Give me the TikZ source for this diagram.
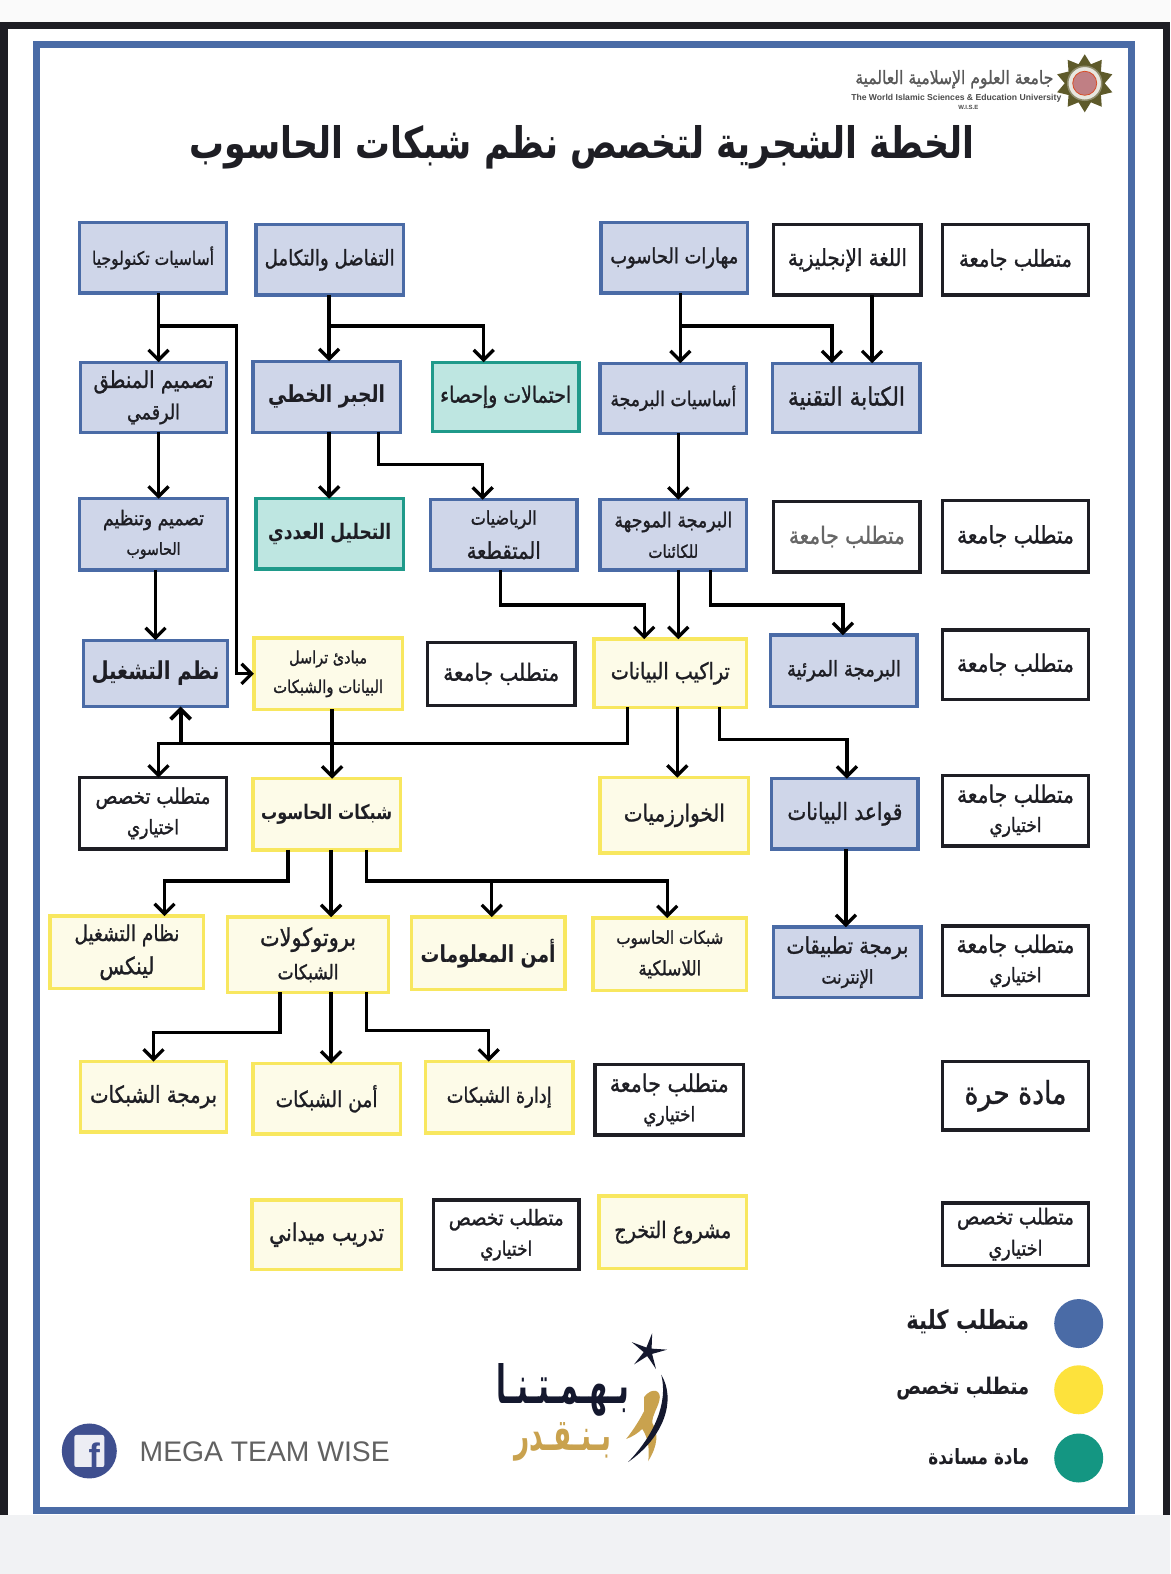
\documentclass[tikz,border=0pt]{standalone}
\usepackage{fontspec}
\usepackage{graphicx}
\usepackage{xcolor}
\usetikzlibrary{arrows.meta,shapes.geometric}
\TeXXeTstate=1
\setmainfont{Liberation Sans}
\newfontfamily\arabicfont[Script=Arabic]{DejaVu Sans}
\newfontfamily\arabicmed[Script=Arabic,FakeBold=1.3]{DejaVu Sans}
\definecolor{frameblue}{HTML}{4A6BA6}
\definecolor{bluefill}{HTML}{CFD6E9}
\definecolor{greenedge}{HTML}{1F9A8A}
\definecolor{greenfill}{HTML}{BEE6E1}
\definecolor{yellowedge}{HTML}{F8E75F}
\definecolor{yellowfill}{HTML}{FDFBE8}
\definecolor{ink}{HTML}{1E1E24}
\definecolor{gold}{HTML}{C9A24E}
\definecolor{navy}{HTML}{14182E}
\definecolor{olive}{HTML}{5E5A2A}
\definecolor{sealred}{HTML}{C07F84}
\definecolor{pagegrey}{HTML}{F1F2F4}
\definecolor{fbblue}{HTML}{3F4F8F}
\definecolor{legyellow}{HTML}{FDE23C}
\definecolor{leggreen}{HTML}{149682}
\newcommand{\T}[3][ink]{\resizebox{#2pt}{!}{\scalebox{1}[1.18]{\color{#1}\arabicmed #3}}}
\newcommand{\TB}[3][ink]{\resizebox{#2pt}{!}{\scalebox{1}[1.25]{\color{#1}\arabicfont\bfseries #3}}}
\newcommand{\cbox}[7]{\node[#6,minimum width={(#4-#2)*1.00343pt},minimum height={(#5-#3)*1.00343pt}] (#1) at ({(#2+#4)/2},{(#3+#5)/2}) {#7};}
\tikzset{
  cbase/.style={rectangle,draw,line width=3.4pt,inner sep=0pt,outer sep=0pt,align=center},
  blueb/.style={cbase,draw=frameblue,fill=bluefill},
  greenb/.style={cbase,draw=greenedge,fill=greenfill},
  yellowb/.style={cbase,draw=yellowedge,fill=yellowfill},
  plainb/.style={cbase,draw=ink,fill=white},
  wire/.style={draw=black,line width=3.3pt,line join=miter},
  arr/.style={wire,-{Straight Barb[length=10pt,width=20pt,line width=3.3pt]}},
}
\begin{document}
\begin{tikzpicture}[x=1.00343pt,y=-1.00343pt]
\useasboundingbox (0,0) rectangle (1166,1568.6);
% page
\fill[white] (0,0) rectangle (1166,1568.6);
\fill[black!2] (0,0) rectangle (1166,22);
\fill[pagegrey] (0,1510) rectangle (1166,1568.6);
\fill[ink] (0,22) rectangle (1166,29);
\fill[ink] (0,22) rectangle (7.5,1510);
\fill[ink] (1159,22) rectangle (1166,1510);
\draw[frameblue,line width=7pt] (36,44.5) rectangle (1127.5,1505.5);

% university mark
\node[star,star points=10,star point ratio=1.45,minimum size=58pt,inner sep=0pt,fill=olive,draw=none] (seal) at (1081,83) {};
\node[circle,minimum size=34pt,inner sep=0pt,fill=white!85!olive,draw=olive!70,line width=1.5pt] (sealb) at (1081,83) {};
\node[circle,minimum size=24pt,inner sep=0pt,fill=sealred,draw=red!40!brown,line width=.8pt] (sealc) at (1081,83) {};
\node[inner sep=0pt] (uniar) at (951,79) {\T[black!65]{198}{\beginR جامعة العلوم الإسلامية العالمية\endR}};
\node[inner sep=0pt,font=\bfseries,text=black!70] (unien) at (953,98) {\resizebox{210pt}{!}{The World Islamic Sciences \& Education University}};
\node[inner sep=0pt,font=\bfseries,text=black!70] (uniab) at (965,107) {\resizebox{20pt}{!}{W.I.S.E}};

% title
\node[inner sep=0pt] (title) at (580,147) {\TB{785}{\beginR الخطة الشجرية لتخصص نظم شبكات الحاسوب\endR}};

% row 1
\cbox{r1a}{939}{224}{1085}{294}{plainb}{\T{113}{\beginR متطلب جامعة\endR}}
\cbox{eng}{771}{224}{918}{294}{plainb}{\T{119}{\beginR اللغة الإنجليزية\endR}}
\cbox{skills}{599}{222}{745}{292}{blueb}{\T{128}{\beginR مهارات الحاسوب\endR}}
\cbox{calc}{255}{224}{402}{294}{blueb}{\T{130}{\beginR التفاضل والتكامل\endR}}
\cbox{tech}{79}{222}{226}{292}{blueb}{\T{122}{\beginR أساسيات تكنولوجيا\endR}}
% row 2
\cbox{writing}{770}{362}{917}{431}{blueb}{\T{117}{\beginR الكتابة التقنية\endR}}
\cbox{prog}{598}{362}{744}{432}{blueb}{\T{126}{\beginR أساسيات البرمجة\endR}}
\cbox{prob}{431}{361}{577}{430}{greenb}{\T{131}{\beginR احتمالات وإحصاء\endR}}
\cbox{linear}{252}{360}{399}{431}{blueb}{\TB{117}{\beginR الجبر الخطي\endR}}
\cbox{logic}{80}{361}{226}{431}{blueb}{\T{120}{\beginR تصميم المنطق\endR}\\[9pt]\T{53}{\beginR الرقمي\endR}}
% row 3
\cbox{r3a}{939}{499}{1085}{570}{plainb}{\T{117}{\beginR متطلب جامعة\endR}}
\cbox{r3b}{771}{500}{917}{570}{plainb}{\T[black!60]{116}{\beginR متطلب جامعة\endR}}
\cbox{oop}{598}{498}{744}{568}{blueb}{\T{118}{\beginR البرمجة الموجهة\endR}\\[11pt]\T{50}{\beginR للكائنات\endR}}
\cbox{disc}{429}{498}{575}{568}{blueb}{\T{66}{\beginR الرياضيات\endR}\\[11pt]\T{74}{\beginR المتقطعة\endR}}
\cbox{numeric}{255}{497}{402}{567}{greenb}{\TB{123}{\beginR التحليل العددي\endR}}
\cbox{org}{79}{497}{227}{568}{blueb}{\T{101}{\beginR تصميم وتنظيم\endR}\\[11pt]\T{54}{\beginR الحاسوب\endR}}
% row 4
\cbox{r4a}{939}{628}{1085}{697}{plainb}{\T{117}{\beginR متطلب جامعة\endR}}
\cbox{visual}{768}{633}{914}{704}{blueb}{\T{114}{\beginR البرمجة المرئية\endR}}
\cbox{ds}{592}{637}{744}{705}{yellowb}{\T{119}{\beginR تراكيب البيانات\endR}}
\cbox{r4b}{426}{640}{573}{703}{plainb}{\T{116}{\beginR متطلب جامعة\endR}}
\cbox{mabadi}{253}{636}{401}{707}{yellowb}{\T{78}{\beginR مبادئ تراسل\endR}\\[11pt]\T{110}{\beginR البيانات والشبكات\endR}}
\cbox{os}{83}{638}{227}{704}{blueb}{\TB{128}{\beginR نظم التشغيل\endR}}
% row 5
\cbox{r5a}{939}{773}{1085}{843}{plainb}{\T{117}{\beginR متطلب جامعة\endR}\\[9pt]\T{52}{\beginR اختياري\endR}}
\cbox{db}{769}{776}{915}{846}{blueb}{\T{115}{\beginR قواعد البيانات\endR}}
\cbox{algo}{598}{775}{746}{850}{yellowb}{\T{101}{\beginR الخوارزميات\endR}}
\cbox{net}{252}{776}{399}{847}{yellowb}{\TB{131}{\beginR شبكات الحاسوب\endR}}
\cbox{r5b}{79}{775}{226}{846}{plainb}{\T{115}{\beginR متطلب تخصص\endR}\\[9pt]\T{52}{\beginR اختياري\endR}}
% row 6
\cbox{r6a}{939}{923}{1085}{992}{plainb}{\T{118}{\beginR متطلب جامعة\endR}\\[9pt]\T{52}{\beginR اختياري\endR}}
\cbox{web}{771}{924}{918}{994}{blueb}{\T{122}{\beginR برمجة تطبيقات\endR}\\[9pt]\T{52}{\beginR الإنترنت\endR}}
\cbox{wireless}{591}{915}{744}{987}{yellowb}{\T{107}{\beginR شبكات الحاسوب\endR}\\[11pt]\T{63}{\beginR اللاسلكية\endR}}
\cbox{sec}{410}{914}{563}{986}{yellowb}{\TB{135}{\beginR أمن المعلومات\endR}}
\cbox{proto}{227}{914}{387}{989}{yellowb}{\T{96}{\beginR بروتوكولات\endR}\\[11pt]\T{61}{\beginR الشبكات\endR}}
\cbox{linux}{50}{913}{203}{985}{yellowb}{\T{105}{\beginR نظام التشغيل\endR}\\[9pt]\T{55}{\beginR لينكس\endR}}
% row 7
\cbox{free}{939}{1058}{1085}{1126}{plainb}{\T{102}{\beginR مادة حرة\endR}}
\cbox{r7a}{593}{1061}{741}{1131}{plainb}{\T{119}{\beginR متطلب جامعة\endR}\\[9pt]\T{52}{\beginR اختياري\endR}}
\cbox{netmgmt}{424}{1058}{571}{1129}{yellowb}{\T{105}{\beginR إدارة الشبكات\endR}}
\cbox{netsec}{252}{1060}{399}{1130}{yellowb}{\T{102}{\beginR أمن الشبكات\endR}}
\cbox{netprog}{80}{1058}{226}{1128}{yellowb}{\T{127}{\beginR برمجة الشبكات\endR}}
% row 8
\cbox{r8a}{939}{1199}{1085}{1261}{plainb}{\T{117}{\beginR متطلب تخصص\endR}\\[9pt]\T{54}{\beginR اختياري\endR}}
\cbox{project}{597}{1192}{744}{1264}{yellowb}{\T{117}{\beginR مشروع التخرج\endR}}
\cbox{r8b}{432}{1196}{577}{1265}{plainb}{\T{115}{\beginR متطلب تخصص\endR}\\[9pt]\T{52}{\beginR اختياري\endR}}
\cbox{field}{251}{1196}{400}{1265}{yellowb}{\T{115}{\beginR تدريب ميداني\endR}}

% junctions
\coordinate (jtech) at (158,325);
\coordinate (jcalc) at (328,325);
\coordinate (jskills) at (678,325);
\coordinate (jds) at (180,741);
\coordinate (jnet) at (490,878);

% connectors
\draw[arr] (tech.south -| 158,0) -- (logic.north -| 158,0);
\draw[arr] (jtech) -- (236,325) |- (mabadi.west);
\draw[arr] (calc.south -| 328,0) -- (linear.north -| 328,0);
\draw[arr] (jcalc) -| (prob.north -| 482,0);
\draw[arr] (skills.south -| 678,0) -- (prog.north -| 678,0);
\draw[arr] (jskills) -| (writing.north -| 829,0);
\draw[arr] (eng.south -| 869,0) -- (writing.north -| 869,0);
\draw[arr] (logic.south -| 158,0) -- (org.north -| 158,0);
\draw[arr] (org.south -| 155,0) -- (os.north -| 155,0);
\draw[arr] (linear.south -| 328,0) -- (numeric.north -| 328,0);
\draw[arr] (linear.south -| 377,0) |- (481,463) -- (disc.north -| 481,0);
\draw[arr] (prog.south -| 676,0) -- (oop.north -| 676,0);
\draw[arr] (oop.south -| 676,0) -- (ds.north -| 676,0);
\draw[arr] (oop.south -| 708,0) |- (840,603) -- (visual.north -| 840,0);
\draw[arr] (disc.south -| 499,0) |- (642,603) -- (ds.north -| 642,0);
\draw[arr] (ds.south -| 625,0) |- (158,741) -- (r5b.north -| 158,0);
\draw[wire,line width=4.2pt,-{Straight Barb[length=10pt,width=20pt,line width=4pt]}] (jds) -- (os.south -| 180,0);
\draw[arr] (mabadi.south -| 331,0) -- (net.north -| 331,0);
\draw[arr] (ds.south -| 675,0) -- (algo.north -| 675,0);
\draw[arr] (ds.south -| 717,0) |- (844,737) -- (db.north -| 844,0);
\draw[arr] (db.south -| 843,0) -- (web.north -| 843,0);
\draw[arr] (net.south -| 287,0) |- (164,878) -- (linux.north -| 164,0);
\draw[arr] (net.south -| 330,0) -- (proto.north -| 330,0);
\draw[arr] (net.south -| 365,0) |- (665,878) -- (wireless.north -| 665,0);
\draw[arr] (jnet) -- (sec.north -| 490,0);
\draw[arr] (proto.south -| 279,0) |- (153,1029) -- (netprog.north -| 153,0);
\draw[arr] (proto.south -| 330,0) -- (netsec.north -| 330,0);
\draw[arr] (proto.south -| 365,0) |- (487,1027) -- (netmgmt.north -| 487,0);

% legend
\node[circle,fill=frameblue,minimum size=49pt,inner sep=0pt] (lega) at (1075,1319) {};
\node[circle,fill=legyellow,minimum size=49pt,inner sep=0pt] (legb) at (1075,1385) {};
\node[circle,fill=leggreen,minimum size=49pt,inner sep=0pt] (legc) at (1075,1453) {};
\node[anchor=east,inner sep=0pt] (legat) at (1026,1317) {\TB{123}{\beginR متطلب كلية\endR}};
\node[anchor=east,inner sep=0pt] (legbt) at (1026,1384) {\TB{133}{\beginR متطلب تخصص\endR}};
\node[anchor=east,inner sep=0pt] (legct) at (1026,1452) {\TB{101}{\beginR مادة مساندة\endR}};

% facebook mark
\node[circle,fill=fbblue,minimum size=55pt,inner sep=0pt] (fbc) at (89,1446) {};
\node[rectangle,rounded corners=2pt,fill=white!90!fbblue,minimum width=30pt,minimum height=32pt,inner sep=0pt] (fbs) at (89,1446) {};
\node[inner sep=0pt,font=\bfseries\fontsize{34}{34}\selectfont,text=fbblue] (fbf) at (94,1450) {f};
\node[anchor=west,inner sep=0pt,text=black!62] (mega) at (139,1447) {\resizebox{250pt}{!}{MEGA TEAM WISE}};

% himmatna logo
\node[star,star points=5,star point ratio=4.2,minimum size=38pt,inner sep=0pt,fill=navy,rotate=-12] (lstar) at (646,1347) {};
\node[inner sep=0pt] (hm) at (561,1385) {\resizebox{132pt}{40pt}{\color{navy}\arabicfont\bfseries\beginR بـهـمـتـنـا\endR}};
\node[inner sep=0pt] (bq) at (561,1437) {\resizebox{97pt}{28pt}{\color{gold}\arabicfont\bfseries\beginR بـنـقـدر\endR}};
\fill[gold] (642,1392) .. controls (650,1382) and (660,1385) .. (657,1396) .. controls (655,1404) and (650,1410) .. (650,1418) .. controls (656,1428) and (656,1440) .. (646,1456) .. controls (648,1440) and (644,1430) .. (640,1424) .. controls (636,1428) and (630,1432) .. (624,1434) .. controls (632,1424) and (638,1414) .. (642,1406) -- cycle;
\fill[navy] (659,1370) .. controls (674,1395) and (662,1432) .. (626,1457) .. controls (652,1430) and (666,1398) .. (659,1370) -- cycle;
\end{tikzpicture}
\end{document}
